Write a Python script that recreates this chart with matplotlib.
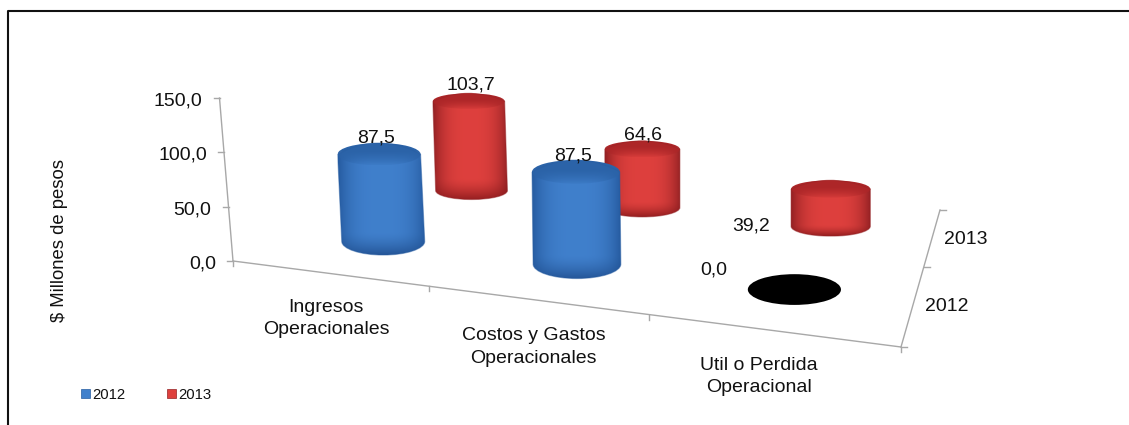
import numpy as np
import matplotlib
matplotlib.use('Agg')
import matplotlib.pyplot as plt
from matplotlib.patches import Ellipse, PathPatch, Rectangle
from matplotlib.path import Path

plt.rcParams['font.family'] = ['Liberation Sans', 'DejaVu Sans']

# Chart data
categories = ['Ingresos\nOperacionales', 'Costos y Gastos\nOperacionales', 'Util o Perdida\nOperacional']
series_names = ['2012', '2013']
values_2012 = [87.5, 87.5, 0.0]
values_2013 = [103.7, 64.6, 39.2]
value_ticks = [0, 50, 100, 150]

# Floor corners in pixels, used to work out the perspective of the fake 3D box
floor_uv = [(0, 0), (3, 0), (3, 2), (0, 2)]
floor_px = [(233, 261), (901, 347), (940, 210), (432, 163)]


def solve_homography(src, dst):
    a, b = [], []
    for (u, v), (x, y) in zip(src, dst):
        a.append([u, v, 1, 0, 0, 0, -u * x, -v * x])
        a.append([0, 0, 0, u, v, 1, -u * y, -v * y])
        b += [x, y]
    return np.append(np.linalg.solve(np.array(a, float), np.array(b, float)), 1).reshape(3, 3)


H = solve_homography(floor_uv, floor_px)
w_ref = (H @ [0.5, 0.5, 1])[2]


def project(u, v):
    p = H @ [u, v, 1]
    return p[0] / p[2], p[1] / p[2], w_ref / p[2]


fig = plt.figure(figsize=(11.29, 4.25), dpi=100)
ax = fig.add_axes([0, 0, 1, 1])
ax.set_xlim(0, 1129)
ax.set_ylim(425, 0)
ax.axis('off')

# Outer frame: only the top and left lines show
ax.plot([8, 8, 1129], [425, 11, 11], color='#111111', lw=1.5, zorder=1)

grey = '#a8a8a8'
txt = '#111111'
fs = 14

# Value axis
z0 = np.array([233, 261.0])
z_step = np.array([-13.5, -163.0]) / 150
for t in value_ticks:
    p = z0 + z_step * t
    ax.plot([p[0] - 6, p[0]], [p[1], p[1]], color=grey, lw=1, zorder=2)
    ax.text(p[0] - 17, p[1] + 3, f'{t:.1f}'.replace('.', ','), ha='right', va='center', fontsize=fs, color=txt)
top = z0 + z_step * 150
ax.plot([z0[0], top[0]], [z0[1], top[1]], color=grey, lw=1, zorder=2)
ax.text(59, 240, '$ Millones de pesos', rotation=90, ha='center', va='center', fontsize=13.3, color=txt)

# Category axis
x0 = project(0, 0)
x3 = project(3, 0)
ax.plot([x0[0], x3[0]], [x0[1], x3[1]], color=grey, lw=1, zorder=2)
for i in range(4):
    p = project(i, 0)
    ax.plot([p[0], p[0]], [p[1], p[1] + 5], color=grey, lw=1, zorder=2)

cat_label_offset = [(-2, 45), (-2, 47), (-12, 46)]
for i, name in enumerate(categories):
    p = project(i + 0.5, 0)
    ax.text(p[0] + cat_label_offset[i][0], p[1] + cat_label_offset[i][1], name, ha='center', va='center',
            fontsize=fs, color=txt, linespacing=1.4)

# Depth axis
d2 = project(3, 2)
ax.plot([x3[0], d2[0]], [x3[1], d2[1]], color=grey, lw=1, zorder=2)
for j in range(3):
    p = project(3, j)
    ax.plot([p[0], p[0] + 6], [p[1], p[1]], color=grey, lw=1, zorder=2)
for j, name in enumerate(series_names):
    p = project(3, j + 0.5)
    ax.text(p[0] + 12, p[1] + 3, name, ha='left', va='center', fontsize=fs, color=txt)

blue = {'edge': (0.15, 0.36, 0.63), 'mid': (0.25, 0.50, 0.80), 'low': (0.12, 0.30, 0.55), 'cap': (0.17, 0.39, 0.66)}
red = {'edge': (0.58, 0.13, 0.14), 'mid': (0.87, 0.25, 0.24), 'low': (0.52, 0.09, 0.10), 'cap': (0.68, 0.15, 0.16)}


def shade(c, nx=120, ny=80):
    # dark at the sides and the lower end, bright in the middle
    xs = np.linspace(-1, 1, nx)
    ys = np.linspace(0, 1, ny)
    side = (np.abs(xs) ** 3)[None, :, None]
    fall = (np.clip((ys - 0.8) / 0.2, 0, 1) ** 1.5 * 0.8)[:, None, None]
    img = np.array(c['mid']) * (1 - side) + np.array(c['edge']) * side
    return img * (1 - fall) + np.array(c['low']) * fall


def cap_shade(c, nx=60, ny=30):
    # cap is darkest at its back edge and melts into the body at the front
    img = np.ones((ny, nx, 4))
    img[..., :3] = c['cap']
    img[..., 3] = np.clip(1.15 - np.linspace(0, 1, ny) ** 2, 0, 1)[:, None]
    return img


def cylinder(u, v, value, colors, r_top, r_bot, label, label_dx, label_dy):
    x, y, s = project(u, v)
    half = 41.5 * s
    h = value * 83 * s * 0.012
    order = 5 + (1 - v) * 5 + u
    if value == 0:
        ax.add_patch(Ellipse((x, y), 2 * half, 2 * half * r_bot, fc='black', ec='none', zorder=order))
    else:
        b = half * r_bot
        t = half * r_top
        k = 0.5523
        # the walls lean a little towards the left side of the chart
        xt = x + h * min(0, (x - 640) / 5400)
        ytop = y - h
        verts = [(xt - half, ytop), (x - half, y), (x - half, y + k * b), (x - k * half, y + b), (x, y + b),
                 (x + k * half, y + b), (x + half, y + k * b), (x + half, y), (xt + half, ytop),
                 (xt + k * half, ytop - t), (xt, ytop - t), (xt, ytop - t),
                 (xt - k * half, ytop - t), (xt - half, ytop), (xt - half, ytop)]
        codes = [Path.MOVETO, Path.LINETO, Path.CURVE4, Path.CURVE4, Path.CURVE4,
                 Path.CURVE4, Path.CURVE4, Path.CURVE4, Path.LINETO,
                 Path.CURVE4, Path.CURVE4, Path.CURVE4,
                 Path.CURVE4, Path.CURVE4, Path.CURVE4]
        body = PathPatch(Path(verts, codes), fc='none', ec=colors['edge'], lw=0.8, alpha=0.45, zorder=order + 0.3)
        ax.add_patch(body)
        im = ax.imshow(shade(colors), extent=(min(x, xt) - half, max(x, xt) + half, y + b, ytop - t), aspect='auto',
                       zorder=order, interpolation='bilinear')
        im.set_clip_path(body)
        cap_clip = Ellipse((xt, ytop), 2 * half, 2 * t, fc='none', ec='none')
        ax.add_patch(cap_clip)
        cp = ax.imshow(cap_shade(colors), extent=(xt - half, xt + half, ytop + t, ytop - t), aspect='auto',
                       zorder=order + 0.1, interpolation='bilinear')
        cp.set_clip_path(cap_clip)
    ax.text(x + label_dx, y - h + label_dy, label, ha='center', va='center', fontsize=fs, color=txt, zorder=30)


label_shift_2012 = [(-7, -16), (-4, -16), (-81, -20)]
label_shift_2013 = [(-1, -16), (1, -14), (-80, 37)]
for i, val in enumerate(values_2013):
    dx, dy = label_shift_2013[i]
    cylinder(i + 0.5, 1.5, val, red, 0.22, 0.25, f'{val:.1f}'.replace('.', ','), dx, dy)
for i, val in enumerate(values_2012):
    dx, dy = label_shift_2012[i]
    cylinder(i + 0.5, 0.5, val, blue, 0.27, 0.33, f'{val:.1f}'.replace('.', ','), dx, dy)

# Legend
for lx, name, c in [(81, series_names[0], blue), (167, series_names[1], red)]:
    ax.add_patch(Rectangle((lx, 389), 9, 9, fc=c['mid'], ec=c['edge'], lw=0.5))
    ax.text(lx + 11, 395, name, ha='left', va='center', fontsize=10.7, color=txt)

ax.set_xlim(0, 1129)
ax.set_ylim(425, 0)
fig.savefig('out.png', dpi=100)
